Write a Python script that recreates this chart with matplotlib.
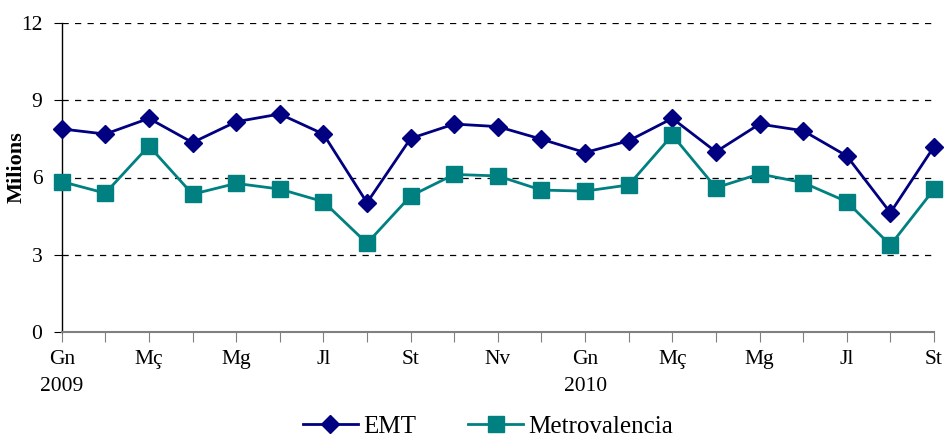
import matplotlib
matplotlib.use("Agg")
import matplotlib.pyplot as plt

months = ["Gn", "Fb", "Mç", "Ab", "Mg", "Jn", "Jl", "Ag", "St", "Oc", "Nv", "Ds",
          "Gn", "Fb", "Mç", "Ab", "Mg", "Jn", "Jl", "Ag", "St"]
years = {0: "2009", 12: "2010"}
emt = [7.89, 7.69, 8.30, 7.36, 8.17, 8.47, 7.69, 5.02, 7.52, 8.08, 7.98,
       7.49, 6.97, 7.43, 8.30, 7.00, 8.08, 7.82, 6.84, 4.63, 7.20]
metro = [5.84, 5.39, 7.23, 5.35, 5.77, 5.55, 5.06, 3.44, 5.28, 6.12, 6.06,
         5.51, 5.47, 5.71, 7.65, 5.60, 6.14, 5.80, 5.06, 3.37, 5.54]
yticks = [0, 3, 6, 9, 12]

plt.rcParams['font.family'] = ['Liberation Serif', 'DejaVu Serif']

fig = plt.figure(figsize=(9.44, 4.43), dpi=100)
ax = fig.add_axes([61.7/944, 1 - 331.7/443, (934 - 61.7)/944, (331.7 - 23.3)/443])

x = list(range(len(months)))
ax.plot(x, emt, color="#000080", marker="D", markersize=9, linewidth=2, label="EMT",
        zorder=3, clip_on=False)
ax.plot(x, metro, color="#008080", marker="s", markersize=11, linewidth=2, label="Metrovalencia",
        zorder=3, clip_on=False)

ax.set_xlim(0, len(months) - 1)
ax.set_ylim(0, 12)
ax.set_yticks(yticks)
ax.set_yticklabels([str(v) for v in yticks], fontsize=15.5)
for v in yticks[1:]:
    ax.axhline(v, color="black", linestyle=(0, (5, 5)), linewidth=0.9, zorder=1)

ax.set_xticks(x)
labels = []
for i, m in enumerate(months):
    if i % 2 == 0:
        lab = m + ("\n" + years[i] if i in years else "")
    else:
        lab = ""
    labels.append(lab)
ax.set_xticklabels(labels, fontsize=15.5, linespacing=1.6, va="top")
for t in ax.get_xticklabels():
    t.set_horizontalalignment("center")
    t.set_multialignment("center")

ax.tick_params(axis="x", direction="out", length=7, color="#808080", pad=6)
ax.tick_params(axis="y", direction="out", length=6, color="black", pad=8)
ax.spines["top"].set_visible(False)
ax.spines["right"].set_visible(False)
ax.spines["bottom"].set_color("#808080")
ax.spines["bottom"].set_linewidth(1.5)
ax.spines["left"].set_color("black")
ax.spines["left"].set_linewidth(1.0)

ax.set_ylabel("Milions", fontsize=16, fontweight="bold")
ax.yaxis.set_label_coords(-0.040, 0.534)

fig.legend(loc="lower center", bbox_to_anchor=(0.517, -0.04), ncol=2, frameon=False,
           fontsize=18, handlelength=2.2, columnspacing=2.1, handletextpad=0.2)

fig.savefig("out.png", dpi=100)
